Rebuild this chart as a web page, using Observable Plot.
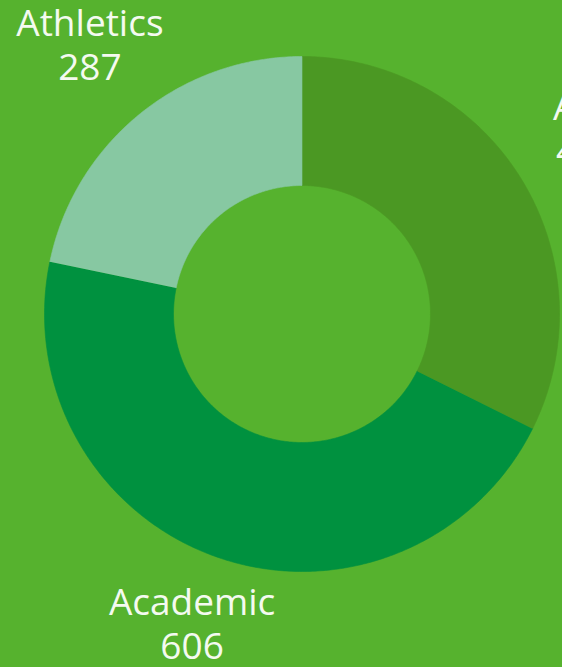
<!DOCTYPE html>
<html><head><meta charset="utf-8">
<script src="https://cdn.jsdelivr.net/npm/d3@7"></script>
<script src="https://cdn.jsdelivr.net/npm/@observablehq/plot@0.6"></script>
<style>
html,body{margin:0;padding:0;background:#56b22e;overflow:hidden;}
#chart svg{display:block;}
</style>
</head><body><div id="chart"></div>
<script>
const categories = ["Arts", "Academic", "Athletics"];
const values = [427, 606, 287];
const colors = ["#4b9823", "#00913f", "#87c8a2"];

const W = 562, H = 667;
const cx = 301.5, cy = 313.5;
const outerR = 257.5, innerR = 128.5, labelR = 336, labelShift = -9;

const arcs = d3.pie().sort(null).value((d, i) => values[i])(categories);

const polys = [];
arcs.forEach((a, i) => {
  const cat = categories[i];
  const n = Math.max(8, Math.ceil((a.endAngle - a.startAngle) / 0.01));
  for (let k = 0; k <= n; k++) {
    const t = a.startAngle + (a.endAngle - a.startAngle) * k / n;
    polys.push({cat, x: outerR * Math.sin(t), y: -outerR * Math.cos(t)});
  }
  for (let k = n; k >= 0; k--) {
    const t = a.startAngle + (a.endAngle - a.startAngle) * k / n;
    polys.push({cat, x: innerR * Math.sin(t), y: -innerR * Math.cos(t)});
  }
});

const labels = arcs.map((a, i) => {
  const m = (a.startAngle + a.endAngle) / 2;
  return {cat: categories[i], value: values[i], x: labelR * Math.sin(m), y: -labelR * Math.cos(m) + labelShift};
});

const chart = Plot.plot({
  width: W, height: H,
  margin: 0,
  style: {background: "#56b22e", overflow: "hidden"},
  x: {domain: [-cx, W - cx], range: [0, W], axis: null},
  y: {domain: [-cy, H - cy], range: [0, H], axis: null},
  color: {domain: categories, range: colors},
  marks: [
    Plot.line(polys, {x: "x", y: "y", z: "cat", fill: "cat", stroke: "cat", strokeWidth: 0.6}),
    Plot.text(labels, {
      x: "x", y: "y",
      text: d => `${d.cat}\n${d.value}`,
      fill: "#f4faf0", fontSize: 37, lineHeight: 1.19,
      fontFamily: "Open Sans", textAnchor: "middle"
    })
  ]
});
document.getElementById("chart").appendChild(chart);
</script>
</body></html>
